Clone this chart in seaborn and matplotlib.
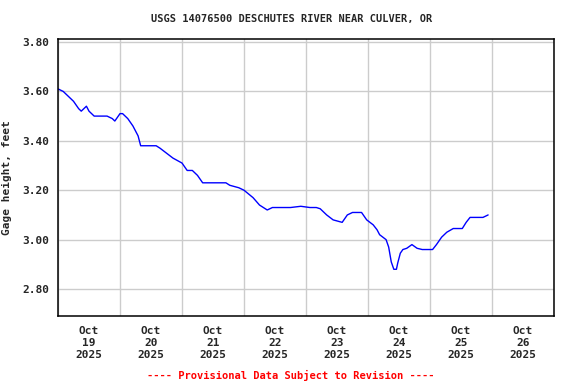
import pandas as pd
import matplotlib
matplotlib.use("Agg")
import matplotlib.pyplot as plt
import seaborn as sns

# Hours after Oct 19 2025 00:00 and gage height (feet)
hours = [0, 2, 4, 6, 8, 9, 11, 12, 14, 16, 19, 21, 22, 24, 25, 27, 29, 31,
         32, 35, 38, 39.5, 42, 44.5, 48, 50, 52, 54, 56, 58, 61, 63.5, 65,
         66.5, 70, 72, 75.5, 78, 81, 83, 85, 90, 94, 97.5, 100, 101.5, 104,
         106.5, 110, 112, 114, 117.5, 119.5, 122, 123.5, 124.5, 127, 128,
         129, 130, 131, 131.5, 132.5, 133.5, 135, 137, 139, 141, 145, 146.5,
         148.5, 150.5, 153, 156.5, 158, 159.5, 164.5, 166.5]
gage_ft = [3.61, 3.60, 3.58, 3.56, 3.53, 3.52, 3.54, 3.52, 3.50, 3.50, 3.50,
           3.49, 3.48, 3.51, 3.51, 3.49, 3.46, 3.42, 3.38, 3.38, 3.38, 3.37,
           3.35, 3.33, 3.31, 3.28, 3.28, 3.26, 3.23, 3.23, 3.23, 3.23, 3.23,
           3.22, 3.21, 3.20, 3.17, 3.14, 3.12, 3.13, 3.13, 3.13, 3.135, 3.13,
           3.13, 3.125, 3.10, 3.08, 3.07, 3.10, 3.11, 3.11, 3.08, 3.06, 3.04,
           3.02, 3.00, 2.97, 2.91, 2.88, 2.88, 2.905, 2.945, 2.96, 2.965, 2.98,
           2.965, 2.96, 2.96, 2.98, 3.01, 3.03, 3.045, 3.045, 3.07, 3.09, 3.09,
           3.10]

y_ticks = [2.80, 3.00, 3.20, 3.40, 3.60, 3.80]
day_nums = [19, 20, 21, 22, 23, 24, 25, 26]
day_labels = [f"Oct\n{d}\n2025" for d in day_nums]

start = pd.Timestamp("2025-10-19 00:00")
df = pd.DataFrame({"time": start + pd.to_timedelta(hours, unit="h"),
                   "gage": gage_ft})

sns.set_style("white")
plt.rcParams["font.family"] = ["DejaVu Sans Mono"]
plt.rcParams["font.weight"] = "bold"

fig = plt.figure(figsize=(5.76, 3.84), dpi=100)
ax = fig.add_axes([58 / 576, 1 - 316 / 384, 496 / 576, 277 / 384])

sns.lineplot(data=df, x="time", y="gage", color="blue", linewidth=1.0, ax=ax)

# day boundaries as grid lines, labels centered on noon
midnights = [start + pd.Timedelta(days=i) for i in range(9)]
noons = [start + pd.Timedelta(days=i, hours=12) for i in range(8)]
ax.set_xticks(midnights)
ax.set_xticklabels([""] * len(midnights))
ax.set_xticks(noons, minor=True)
ax.set_xticklabels(day_labels, minor=True, fontsize=8, fontweight="bold",
                   linespacing=1.25)
ax.set_xlim(midnights[0], midnights[-1])

ax.set_yticks(y_ticks)
ax.set_yticklabels([f"{v:.2f}" for v in y_ticks], fontsize=8, fontweight="bold")
ax.set_ylim(2.691, 3.812)

ax.tick_params(axis="both", which="both", length=0)
ax.tick_params(axis="x", which="minor", pad=7)
ax.tick_params(axis="y", pad=6)
ax.grid(True, which="major", color="#cccccc", linewidth=1.0)
ax.set_axisbelow(True)
for s in ax.spines.values():
    s.set_color("black")
    s.set_linewidth(1.1)

ax.set_xlabel("")
ax.set_ylabel("Gage height, feet", fontsize=8, fontweight="bold")
ax.yaxis.set_label_coords(-0.093, 0.5)

fig.text(0.507, 1 - 19 / 384, "USGS 14076500 DESCHUTES RIVER NEAR CULVER, OR",
         ha="center", va="center", fontsize=7.5, fontweight="bold")
fig.text(0.505, 1 - 375 / 384, "---- Provisional Data Subject to Revision ----",
         ha="center", va="center", fontsize=7.5, fontweight="bold", color="red")

fig.savefig("out.png", dpi=100)
